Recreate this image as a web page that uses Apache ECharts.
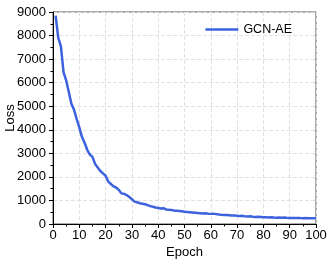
<!DOCTYPE html>
<html>
<head>
<meta charset="utf-8">
<script src="https://cdn.jsdelivr.net/npm/echarts@6/dist/echarts.min.js"></script>
<style>
  html, body { margin: 0; padding: 0; background: #fff; }
  #chart { width: 327px; height: 261px; }
</style>
</head>
<body>
<div id="chart"></div>
<script>
// 数据：epoch 1..100 的训练损失
var epochs = [];
for (var i = 1; i <= 100; i++) epochs.push(i);

var lossValues = [
  8850, 7900, 7550, 6450, 6100, 5600, 5100, 4850, 4450, 4100,
  3700, 3450, 3150, 2950, 2850, 2550, 2400, 2250, 2150, 2050,
  1800, 1700, 1600, 1550, 1450, 1300, 1280, 1230, 1150, 1050,
  950, 920, 880, 860, 840, 800, 760, 730, 700, 680,
  660, 670, 620, 600, 590, 570, 560, 550, 540, 520,
  510, 500, 490, 480, 470, 460, 450, 455, 440, 430,
  440, 420, 400, 390, 385, 380, 370, 360, 365, 350,
  340, 345, 330, 320, 325, 310, 300, 305, 300, 290,
  285, 280, 285, 275, 270, 275, 265, 280, 260, 255,
  255, 250, 260, 250, 245, 250, 240, 245, 240, 240
];

var seriesName = 'GCN-AE';
var xTicks = { min: 0, max: 100, step: 10 };
var yTicks = { min: 0, max: 9000, step: 1000 };

var font = 'Liberation Sans, Arial, sans-serif';
var chart = echarts.init(document.getElementById('chart'));

var points = epochs.map(function (e, k) { return [e, lossValues[k]]; });

var option = {
  backgroundColor: '#fff',
  animation: false,
  grid: {
    left: 53, right: 11, top: 12, bottom: 37,
    containLabel: false, outerBoundsMode: 'none',
    show: true, borderColor: '#555', borderWidth: 1
  },
  legend: {
    top: 18, right: 30,
    icon: 'rect', itemWidth: 33, itemHeight: 2.5, itemGap: 4,
    textStyle: { fontFamily: font, fontSize: 12.5, color: '#000' },
    data: [seriesName]
  },
  xAxis: {
    type: 'value',
    min: xTicks.min, max: xTicks.max, interval: xTicks.step,
    name: 'Epoch', nameLocation: 'middle', nameGap: 22, nameMoveOverlap: false,
    nameTextStyle: { fontFamily: font, fontSize: 13, color: '#000' },
    axisLine: { lineStyle: { color: '#000', width: 1 } },
    axisTick: { inside: false, length: 4, lineStyle: { color: '#000' } },
    minorTick: { show: true, splitNumber: 2, length: 2.5, lineStyle: { color: '#000' } },
    axisLabel: { fontFamily: font, fontSize: 13, color: '#000', margin: 5,
                 formatter: function (v) { return String(v); } },
    splitLine: { show: true, lineStyle: { color: '#e2e2e2', type: 'dashed', width: 1 } }
  },
  yAxis: {
    type: 'value',
    min: yTicks.min, max: yTicks.max, interval: yTicks.step,
    name: 'Loss', nameLocation: 'middle', nameGap: 36, nameMoveOverlap: false,
    nameTextStyle: { fontFamily: font, fontSize: 13, color: '#000' },
    axisLine: { show: true, lineStyle: { color: '#000', width: 1 } },
    axisTick: { show: true, inside: false, length: 4, lineStyle: { color: '#000' } },
    minorTick: { show: true, splitNumber: 2, length: 2.5, lineStyle: { color: '#000' } },
    axisLabel: { fontFamily: font, fontSize: 13, color: '#000', margin: 7,
                 formatter: function (v) { return String(v); } },
    splitLine: { show: true, lineStyle: { color: '#e2e2e2', type: 'dashed', width: 1 } }
  },
  series: [{
    name: seriesName,
    type: 'line',
    data: points,
    showSymbol: false,
    symbol: 'none',
    lineStyle: { color: '#3c62de', width: 2.5 },
    itemStyle: { color: '#3c62de' }
  }]
};

chart.setOption(option, true);
</script>
</body>
</html>
